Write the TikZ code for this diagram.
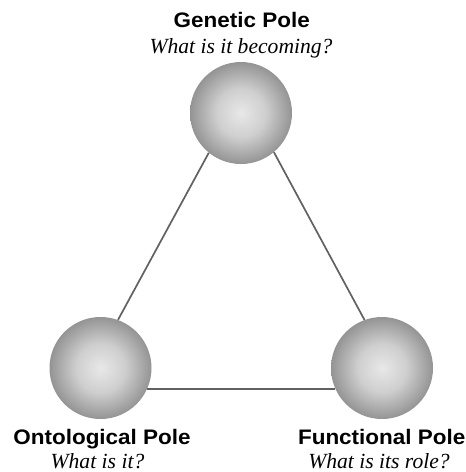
\documentclass[tikz,border=0pt]{standalone}
\usepackage{fontspec}
\setmainfont{Liberation Serif}
\newfontfamily\polefont[FakeStretch=1.07]{Liberation Sans}
\usetikzlibrary{positioning}

% sphere look: light centre, grey rim
\pgfdeclareradialshading{poleball}{\pgfpoint{0bp}{0bp}}{%
  color(0bp)=(black!9); color(12bp)=(black!19);
  color(25bp)=(black!42); color(50bp)=(black!42)}

\tikzset{
  pole/.style={circle, minimum size=102pt, inner sep=0pt, shading=poleball},
  polename/.style={font=\polefont\bfseries\fontsize{21}{24}\selectfont,
    anchor=base, inner sep=0pt},
  poleask/.style={font=\itshape\fontsize{21.6}{24}\selectfont,
    anchor=base, inner sep=0pt},
  edge/.style={line width=1.7pt, black!62}
}

\begin{document}
\begin{tikzpicture}[x=1pt,y=-1pt]
	\useasboundingbox (0,0) rectangle (466,472);

	\node[pole] (G) at (241,113) {};
	\node[pole] (O) at (100.5,368) {};
	\node[pole] (F) at (382,368) {};

	\draw[edge] (G.-129) -- (O.70);
	\draw[edge] (G.-50) -- (F.110);
	\draw[edge] (O.-24) -- (F.-156);

	\node[polename] (Gname) at (241.7,27.3) {Genetic Pole};
	\node[poleask] (Gask) at (241,53.3) {What is it becoming?};
	\node[polename] (Oname) at (102,444) {Ontological Pole};
	\node[poleask] (Oask) at (97.5,468.3) {What is it?};
	\node[polename] (Fname) at (381.7,444) {Functional Pole};
	\node[poleask] (Fask) at (379,468.3) {What is its role?};
\end{tikzpicture}
\end{document}
